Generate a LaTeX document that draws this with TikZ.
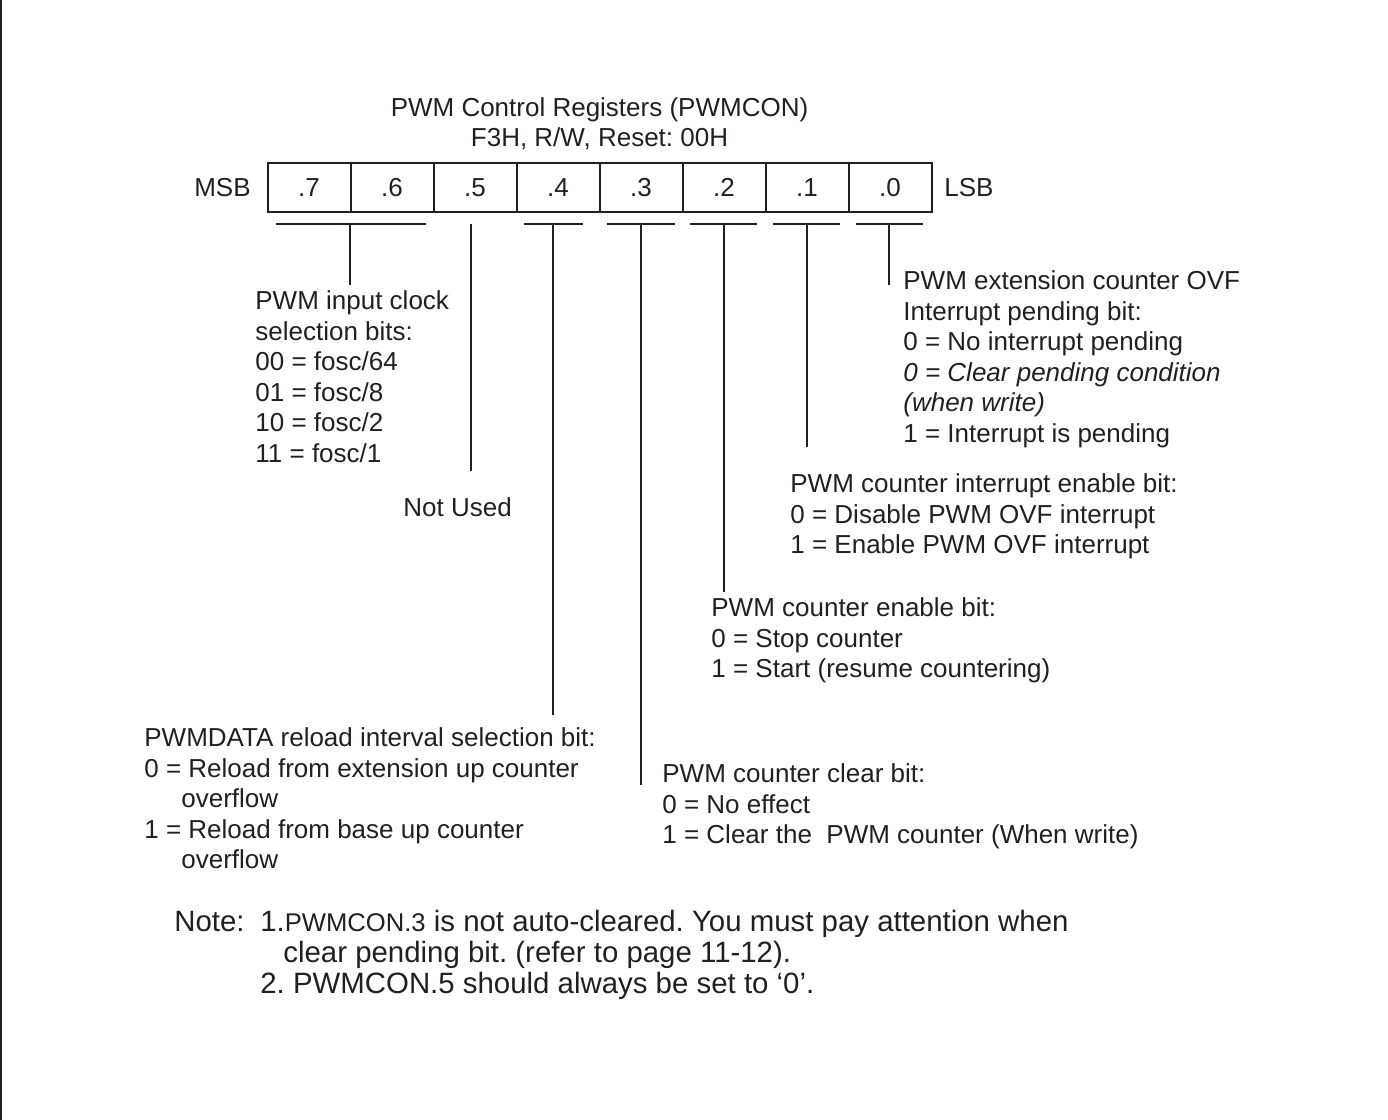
\documentclass[tikz,border=0pt]{standalone}
\usepackage{fontspec}
\setmainfont{Liberation Sans}
\frenchspacing
\definecolor{ink}{HTML}{231F20}
\newcommand{\fs}{\fontsize{13}{15.3}\selectfont}
\newcommand{\fnote}{\fontsize{14.7}{15.5}\selectfont}
\newcommand{\fsmall}{\fontsize{12.8}{15.5}\selectfont}
\begin{document}
\begin{tikzpicture}[x=0.5pt,y=-0.5pt,
  cell/.style={draw=ink, line width=1pt, minimum width=41.5pt, minimum height=24.5pt, inner sep=0pt, font=\fs, text=ink},
  txt/.style={inner sep=0pt, font=\fs, text=ink},
  desc/.style={txt, align=left, anchor=north west},
  lead/.style={draw=ink, line width=1pt}]
\useasboundingbox (0,0) rectangle (1388,1120);
% left frame edge
\coordinate (fa) at (1,0);
\coordinate (fb) at (1,1120);
\draw[lead, line width=1.2pt] (fa) -- (fb);

% title
\node[txt, align=center, anchor=north, font=\fontsize{13}{15}\selectfont] (title) at (599.5,95)
  {\strut PWM Control Registers (PWMCON)\\F3H, R/W, Reset: 00H};

% register cells
\foreach \b [count=\i from 0] in {7,6,5,4,3,2,1,0}
  \node[cell] (c\b) at ({309+83*\i},187.5) {.\b};
\node[txt, anchor=base east] (msb) at (251,196.5) {MSB};
\node[txt, anchor=base west] (lsb) at (944,196.5) {LSB};

% bracket coordinates
\coordinate (k76a) at (276,224); \coordinate (k76b) at (426,224);
\coordinate (k76m) at (350,224); \coordinate (k76e) at (350,285);
\coordinate (k5m) at (471,224);  \coordinate (k5e) at (471,471);
\coordinate (k4a) at (524,224);  \coordinate (k4b) at (583,224);
\coordinate (k4m) at (553,224);  \coordinate (k4e) at (553,715);
\coordinate (k3a) at (607,224);  \coordinate (k3b) at (675,224);
\coordinate (k3m) at (641,224);  \coordinate (k3e) at (641,785);
\coordinate (k2a) at (690,224);  \coordinate (k2b) at (757,224);
\coordinate (k2m) at (724,224);  \coordinate (k2e) at (724,592);
\coordinate (k1a) at (773,224);  \coordinate (k1b) at (840,224);
\coordinate (k1m) at (807,224);  \coordinate (k1e) at (807,447);
\coordinate (k0a) at (856,224);  \coordinate (k0b) at (923,224);
\coordinate (k0m) at (889,224);  \coordinate (k0e) at (889,285);

\draw[lead] (k76a) -- (k76b) (k76m) -- (k76e);
\draw[lead] (k5m) -- (k5e);
\draw[lead] (k4a) -- (k4b) (k4m) -- (k4e);
\draw[lead] (k3a) -- (k3b) (k3m) -- (k3e);
\draw[lead] (k2a) -- (k2b) (k2m) -- (k2e);
\draw[lead] (k1a) -- (k1b) (k1m) -- (k1e);
\draw[lead] (k0a) -- (k0b) (k0m) -- (k0e);

% descriptions
\node[desc] (d76) at (255,287.6) {\strut PWM input clock\\selection bits:\\00 = fosc/64\\01 = fosc/8\\10 = fosc/2\\11 = fosc/1};
\node[txt, anchor=base west] (d5) at (403,516) {Not Used};
\node[desc] (d0) at (903,267.6) {\strut PWM extension counter OVF\\Interrupt pending bit:\\0 = No interrupt pending\\\textit{0 = Clear pending condition}\\\textit{(when write)}\\1 = Interrupt is pending};
\node[desc] (d1) at (790,470.6) {\strut PWM counter interrupt enable bit:\\0 = Disable PWM OVF interrupt\\1 = Enable PWM OVF interrupt};
\node[desc] (d2) at (711,594.6) {\strut PWM counter enable bit:\\0 = Stop counter\\1 = Start (resume countering)};
\node[desc] (d4) at (144,724.6) {\strut PWMDATA reload interval selection bit:\\0 = Reload from extension up counter\\\hspace*{18.5pt}overflow\\1 = Reload from base up counter\\\hspace*{18.5pt}overflow};
\node[desc] (d3) at (662,760.6) {\strut PWM counter clear bit:\\0 = No effect\\1 = Clear the\ \ PWM counter (When write)};

% notes
\node[txt, anchor=base west, font=\fnote] (notelbl) at (174,931) {Note:};
\node[desc, font=\fnote] (notes) at (260,909.3) {\strut 1.{\fsmall PWMCON.3} is not auto-cleared. You must pay attention when\\\hspace*{11.5pt}clear pending bit. (refer to page 11-12).\\2. PWMCON.5 should always be set to ‘0’.};
\end{tikzpicture}
\end{document}
